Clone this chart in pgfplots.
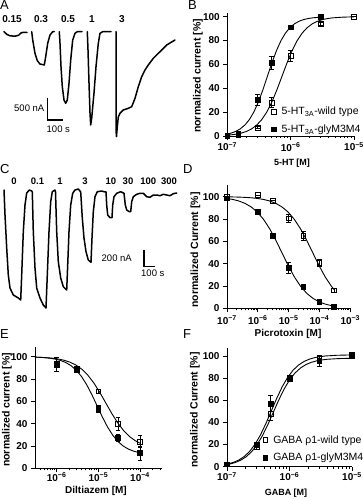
\documentclass[border=0pt]{standalone}
\usepackage{fontspec}
\setmainfont{Liberation Sans}
\usepackage{pgfplots}
\pgfplotsset{compat=1.18}
\newcommand\fs[1]{\fontsize{#1}{#1}\selectfont}
\pgfplotsset{
 prism/.style={scale only axis, axis lines=left, axis line style={-, line width=0.9pt},
   tick align=outside, major tick length=4pt, minor tick length=2.2pt,
   every tick/.style={black, line width=0.8pt},
   tick label style={font=\bfseries\fs{10}}, /pgf/number format/assume math mode=true,
   clip=false, anchor=south west,
   legend cell align=left,
   legend style={draw=none, fill=none, inner sep=0pt, row sep=4.5pt, column sep=3.5pt, font=\fs{10.5}, anchor=west}},
 openpt/.style={only marks, black, mark=square, mark size=2.4pt, mark options={fill=white, line width=0.8pt},
   error bars/.cd, y dir=both, y explicit, error bar style={line width=0.8pt, black},
   error mark options={rotate=90, mark size=2.2pt, line width=0.8pt, black}},
 fillpt/.style={only marks, black, mark=square*, mark size=2.4pt, mark options={fill=black, line width=0.8pt},
   error bars/.cd, y dir=both, y explicit, error bar style={line width=0.8pt, black},
   error mark options={rotate=90, mark size=2.2pt, line width=0.8pt, black}},
 fit/.style={black, line width=0.9pt, forget plot},
 trace/.style={black, line width=1.5pt, line join=round, line cap=round}
}
\begin{document}
\begin{tikzpicture}
% ---------- overlay axis in pixel units: traces, scale bars, texts ----------
\begin{axis}[scale only axis, width=363pt, height=500pt, at={(0pt,0pt)}, anchor=south west,
  xmin=0, xmax=363, ymin=0, ymax=500, y dir=reverse, hide axis, clip=false]
% Panel A traces
\addplot[trace] coordinates {(4,31.7) (7,34.5) (10,35.8) (15,36.2) (18.5,35.3) (21,33) (23,32.3) (27,32.3)};
\addplot[trace] coordinates {(31.7,31.7) (32.7,40) (35,53.3) (37.3,60.7) (40,64) (44.3,65) (45.7,56.7) (47.7,43.3) (50,35) (52.7,31.7) (54.3,31.7)};
\addplot[trace] coordinates {(59.3,31.7) (60,43.3) (61,66.7) (62.3,86.7) (64,100) (65.7,103.3) (67.3,100) (69,83.3) (70.7,60) (72.7,40) (75,33.3) (77.3,31.7) (82,31.7)};
\addplot[trace] coordinates {(87.3,31.7) (88,50) (89,83) (90,113) (90.7,125) (91.7,118) (94,93) (96,66.7) (98.3,43.3) (100,33.3) (102.7,31.7) (111,31.7)};
\addplot[trace] coordinates {(116,31.7) (116,130) (116.5,136.5) (117.3,126.7) (118.3,117) (120,113.3) (123.3,110) (128.3,108.3) (131.7,106.7) (135,98.3) (138.3,86.7) (141.7,76.7) (145,70) (148.3,65) (153.3,58.3) (160,51.7) (166.7,45) (175,40)};
\addplot[black, line width=1.5pt] coordinates {(47.7,97.7) (47.7,120) (63.3,120)};
% Panel C trace
\addplot[trace] coordinates {(4,190) (5,215) (6.7,248) (8.3,275) (10,288) (13.3,295) (18.3,298) (20.7,300) (21.7,275) (23.3,231.7) (25,205) (26.7,193) (29.3,190) (31.7,191) (32.3,192) (33.3,231.7) (35,268) (36.7,288) (40,298) (43.3,305) (46,308) (47.3,275) (49,231.7) (50.7,201.7) (52.3,191.7) (55,190) (55.5,192) (56.7,231.7) (58.3,261.7) (60.7,278) (63.3,286.7) (66.7,290) (67.7,265) (69,231.7) (70.7,205) (72.7,193.3) (75,190) (78.3,189) (80,191) (80.7,192) (82.3,218) (84,238) (86,251.7) (88.3,260) (91,262.3) (92,238) (93.3,211.7) (95,196.7) (97.3,191.7) (101.7,191) (104,191.7) (106,192) (106.7,205) (107.7,215) (110,217.7) (112,217.7) (112.7,205) (114,196.7) (116.7,193.3) (120.7,191.7) (124,193.3) (125.3,205) (126.7,210) (129.3,211.7) (130.7,211.7) (131.7,201.7) (133.3,196.7) (136.7,194.3) (140,193.3) (143.3,193.3) (146.7,196.7) (150,197.3) (153.3,195) (156.7,195) (160,195.7) (163.3,194.3) (166.7,195) (170,195.7) (173.3,193.7) (176.7,193)};
\addplot[black, line width=1.5pt] coordinates {(144,250) (144,266.5) (155,266.5)};
% panel letters
\node[anchor=north west, inner sep=0pt, font=\fs{13}] at (axis cs:0,0.5) {A};
\node[anchor=north west, inner sep=0pt, font=\fs{13}] at (axis cs:188,0.5) {B};
\node[anchor=north west, inner sep=0pt, font=\fs{13}] at (axis cs:0,164) {C};
\node[anchor=north west, inner sep=0pt, font=\fs{13}] at (axis cs:183,164) {D};
\node[anchor=north west, inner sep=0pt, font=\fs{13}] at (axis cs:0,329) {E};
\node[anchor=north west, inner sep=0pt, font=\fs{13}] at (axis cs:183,329) {F};
% concentrations A
\node[font=\bfseries\fs{10}, inner sep=0pt] at (axis cs:12,19.5) {0.15};
\node[font=\bfseries\fs{10}, inner sep=0pt] at (axis cs:41,19.5) {0.3};
\node[font=\bfseries\fs{10}, inner sep=0pt] at (axis cs:68,19.5) {0.5};
\node[font=\bfseries\fs{10}, inner sep=0pt] at (axis cs:92,19.5) {1};
\node[font=\bfseries\fs{10}, inner sep=0pt] at (axis cs:122,19.5) {3};
% concentrations C
\node[font=\bfseries\fs{9.5}, inner sep=0pt] at (axis cs:14,181.5) {0};
\node[font=\bfseries\fs{9.5}, inner sep=0pt] at (axis cs:37.5,181.5) {0.1};
\node[font=\bfseries\fs{9.5}, inner sep=0pt] at (axis cs:60,181.5) {1};
\node[font=\bfseries\fs{9.5}, inner sep=0pt] at (axis cs:85,181.5) {3};
\node[font=\bfseries\fs{9.5}, inner sep=0pt] at (axis cs:110.8,181.5) {10};
\node[font=\bfseries\fs{9.5}, inner sep=0pt] at (axis cs:128,181.5) {30};
\node[font=\bfseries\fs{9.5}, inner sep=0pt] at (axis cs:148.3,181.5) {100};
\node[font=\bfseries\fs{9.5}, inner sep=0pt] at (axis cs:169,181.5) {300};
% scale bar texts
\node[anchor=east, font=\fs{9.5}, inner sep=0pt] at (axis cs:44.5,108) {500 nA};
\node[anchor=west, font=\fs{9.5}, inner sep=0pt] at (axis cs:46.5,129.3) {100 s};
\node[anchor=east, font=\fs{9.5}, inner sep=0pt] at (axis cs:132,258) {200 nA};
\node[anchor=west, font=\fs{9.5}, inner sep=0pt] at (axis cs:141,273.3) {100 s};
% axis titles
\node[rotate=90, font=\bfseries\fs{10.5}, inner sep=0pt] at (axis cs:198,76) {normalized current [\%]};
\node[font=\bfseries\fs{9}, inner sep=0pt] at (axis cs:292,163.5) {5-HT [M]};
\node[rotate=90, font=\bfseries\fs{10.5}, inner sep=0pt] at (axis cs:195.5,250) {normalized Current [\%]};
\node[font=\bfseries\fs{10}, inner sep=0pt] at (axis cs:288,334) {Picrotoxin [M]};
\node[rotate=90, font=\bfseries\fs{10.5}, inner sep=0pt] at (axis cs:7,410) {normalized current [\%]};
\node[font=\bfseries\fs{10}, inner sep=0pt] at (axis cs:96,490.5) {Diltiazem [M]};
\node[rotate=90, font=\bfseries\fs{10.5}, inner sep=0pt] at (axis cs:195,410) {normalized Current [\%]};
\node[font=\bfseries\fs{9}, inner sep=0pt] at (axis cs:286,492.7) {GABA [M]};
\end{axis}

% ---------- Panel B ----------
\begin{axis}[prism, at={(227.3pt,364pt)}, width=126.7pt, height=122.9pt,
  xmin=-7, xmax=-5, ymin=0, ymax=103, ytick={0,20,40,60,80,100},
  xtick={-7,-6,-5}, xticklabels={10\textsuperscript{−7},10\textsuperscript{−6},10\textsuperscript{−5}},
  xticklabel style={yshift=1pt},
  minor xtick={-6.699,-6.523,-6.398,-6.301,-6.222,-6.155,-6.097,-6.046,-5.699,-5.523,-5.398,-5.301,-5.222,-5.155,-5.097,-5.046},
  legend style={at={(0.345,0.126)}}]
\addplot[fit] coordinates {(-7,0.69) (-6.937,0.99) (-6.857,1.56) (-6.777,2.45) (-6.697,3.83) (-6.617,5.94) (-6.537,9.09) (-6.457,13.68) (-6.377,20.08) (-6.297,28.47) (-6.217,38.69) (-6.137,50) (-6.057,61.31) (-5.977,71.53) (-5.897,79.92) (-5.817,86.32) (-5.737,90.91) (-5.657,94.07) (-5.577,96.17) (-5.497,97.55) (-5.417,98.44) (-5.337,99.01) (-5.177,99.6) (-5,99.86)};
\addplot[fit] coordinates {(-7,1.66) (-6.938,2.45) (-6.867,3.83) (-6.796,5.94) (-6.724,9.09) (-6.653,13.68) (-6.581,20.08) (-6.510,28.47) (-6.438,38.69) (-6.367,50) (-6.296,61.31) (-6.224,71.53) (-6.153,79.92) (-6.081,86.32) (-6.010,90.91) (-5.938,94.07) (-5.867,96.17) (-5.796,97.55) (-5.724,98.44) (-5.653,99.01) (-5.581,99.37) (-5.523,99.6)};
\addplot[openpt] coordinates {(-7,0) +- (0,0) (-6.824,1) +- (0,0) (-6.523,7) +- (0,1) (-6.301,28) +- (0,4) (-6,67) +- (0,4.5) (-5.523,94) +- (0,1.5) (-5,100) +- (0,0)};
\addplot[fillpt] coordinates {(-7,0) +- (0,0) (-6.824,1.5) +- (0,0) (-6.523,30) +- (0,4.5) (-6.301,61) +- (0,5.5) (-6,91) +- (0,1.5) (-5.523,99.5) +- (0,0.5)};
\legend{5-HT\textsubscript{3A}-wild type, 5-HT\textsubscript{3A}-glyM3M4}
\end{axis}

% ---------- Panel D ----------
\begin{axis}[prism, at={(227pt,191.7pt)}, width=123.3pt, height=122.8pt,
  xmin=-7, xmax=-3, ymin=0, ymax=110, ytick={0,20,40,60,80,100},
  xtick={-7,-6,-5,-4,-3}, xticklabels={10\textsuperscript{−7},10\textsuperscript{−6},10\textsuperscript{−5},10\textsuperscript{−4},10\textsuperscript{−3}},
  minor xtick={-6.699,-6.523,-6.398,-6.301,-6.222,-6.155,-6.097,-6.046,-5.699,-5.523,-5.398,-5.301,-5.222,-5.155,-5.097,-5.046,-4.699,-4.523,-4.398,-4.301,-4.222,-4.155,-4.097,-4.046,-3.699,-3.523,-3.398,-3.301,-3.222,-3.155,-3.097,-3.046}]
\addplot[fit] coordinates {(-7,98.36) (-6.822,97.55) (-6.622,96.17) (-6.422,94.07) (-6.222,90.91) (-6.022,86.32) (-5.822,79.92) (-5.622,71.53) (-5.422,61.31) (-5.222,50) (-5.022,38.69) (-4.822,28.47) (-4.622,20.08) (-4.422,13.68) (-4.222,9.09) (-4.022,5.94) (-3.822,3.83) (-3.622,2.45) (-3.523,1.96)};
\addplot[fit] coordinates {(-7,99.83) (-6.822,99.75) (-6.622,99.6) (-6.422,99.37) (-6.222,99.01) (-6.022,98.44) (-5.822,97.55) (-5.622,96.17) (-5.422,94.07) (-5.222,90.91) (-5.022,86.32) (-4.822,79.92) (-4.622,71.53) (-4.422,61.31) (-4.222,50) (-4.022,38.69) (-3.822,28.47) (-3.622,20.08) (-3.523,16.67)};
\addplot[openpt] coordinates {(-7,100) +- (0,0) (-6,101.5) +- (0,0) (-5.523,96.5) +- (0,0) (-5,80.5) +- (0,4) (-4.523,65) +- (0,4) (-4,40.5) +- (0,3) (-3.523,16) +- (0,1.5)};
\addplot[fillpt] coordinates {(-7,98.5) +- (0,0) (-6,86) +- (0,1.5) (-5.523,65) +- (0,1.5) (-5,36) +- (0,5) (-4.523,19) +- (0,1.5) (-4,6) +- (0,1) (-3.523,1.5) +- (0,1)};
\end{axis}

% ---------- Panel E ----------
\begin{axis}[prism, at={(35pt,31.7pt)}, width=126.7pt, height=121.6pt,
  xmin=-6.52, xmax=-3.48, ymin=0, ymax=109, ytick={0,20,40,60,80,100},
  xtick={-6,-5,-4}, xticklabels={10\textsuperscript{−6},10\textsuperscript{−5},10\textsuperscript{−4}},
  xticklabel style={yshift=3pt},
  minor xtick={-6.398,-6.301,-6.222,-6.155,-6.097,-6.046,-5.699,-5.523,-5.398,-5.301,-5.222,-5.155,-5.097,-5.046,-4.699,-4.523,-4.398,-4.301,-4.222,-4.155,-4.097,-4.046,-3.699,-3.523}]
\addplot[fit] coordinates {(-6.52,99.66) (-6.391,99.48) (-6.249,99.18) (-6.106,98.71) (-5.963,97.97) (-5.82,96.82) (-5.677,95.08) (-5.534,92.46) (-5.391,88.65) (-5.249,83.33) (-5.106,76.37) (-4.963,67.89) (-4.82,58.5) (-4.677,49.11) (-4.534,40.63) (-4.391,33.67) (-4.249,28.35) (-4.106,24.54) (-4,22.51)};
\addplot[fit] coordinates {(-6.52,99.64) (-6.405,99.45) (-6.28,99.13) (-6.155,98.63) (-6.03,97.84) (-5.905,96.63) (-5.78,94.78) (-5.655,92.0) (-5.53,87.96) (-5.405,82.33) (-5.28,74.95) (-5.155,65.95) (-5.03,56) (-4.905,46.05) (-4.78,37.05) (-4.655,29.67) (-4.53,24.04) (-4.405,20.0) (-4.28,17.23) (-4.155,15.37) (-4.03,14.16) (-4,13.94)};
\addplot[openpt] coordinates {(-6,94) +- (0,0) (-5.523,89) +- (0,1) (-5,69) +- (0,1.5) (-4.523,40) +- (0,6) (-4,24) +- (0,5.5)};
\addplot[fillpt] coordinates {(-6,93) +- (0,6.5) (-5.523,88.5) +- (0,1.5) (-5,53) +- (0,3) (-4.523,27.5) +- (0,3) (-4,13.5) +- (0,6)};
\end{axis}

% ---------- Panel F ----------
\begin{axis}[prism, at={(227pt,33.3pt)}, width=125pt, height=118.5pt,
  xmin=-7, xmax=-5, ymin=0, ymax=107, ytick={0,20,40,60,80,100},
  xtick={-7,-6,-5}, xticklabels={10\textsuperscript{−7},10\textsuperscript{−6},10\textsuperscript{−5}},
  xticklabel style={yshift=2pt},
  minor xtick={-6.699,-6.523,-6.398,-6.301,-6.222,-6.155,-6.097,-6.046,-5.699,-5.523,-5.398,-5.301,-5.222,-5.155,-5.097,-5.046},
  legend style={at={(0.286,0.15)}}]
\addplot[fit] coordinates {(-7,1.91) (-6.956,2.4) (-6.869,3.75) (-6.782,5.82) (-6.695,8.91) (-6.608,13.41) (-6.521,19.68) (-6.434,27.9) (-6.347,37.92) (-6.26,49) (-6.173,60.08) (-6.086,70.1) (-5.999,78.32) (-5.912,84.59) (-5.825,89.09) (-5.738,92.19) (-5.651,94.25) (-5.564,95.6) (-5.477,96.47) (-5.39,97.03) (-5.216,97.61) (-5.043,97.84) (-5,97.86)};
\addplot[fit] coordinates {(-7,2.3) (-6.986,2.47) (-6.899,3.87) (-6.812,6) (-6.725,9.18) (-6.638,13.82) (-6.551,20.28) (-6.464,28.75) (-6.377,39.08) (-6.29,50.5) (-6.203,61.92) (-6.116,72.25) (-6.029,80.72) (-5.942,87.18) (-5.855,91.82) (-5.768,95.01) (-5.681,97.13) (-5.594,98.53) (-5.507,99.42) (-5.42,100) (-5.246,100.6) (-5.073,100.84) (-5,100.9)};
\addplot[openpt] coordinates {(-7,2) +- (0,0) (-6.523,18) +- (0,2) (-6.301,48) +- (0,6) (-6,79) +- (0,2) (-5.523,98) +- (0,2) (-5,100) +- (0,1)};
\addplot[fillpt] coordinates {(-7,2) +- (0,0) (-6.523,20) +- (0,1.5) (-6.301,57) +- (0,7) (-6,80) +- (0,2) (-5.523,95.5) +- (0,4.5) (-5,100.6) +- (0,1)};
\legend{GABA ρ1-wild type, GABA ρ1-glyM3M4}
\end{axis}
\pgfresetboundingbox
\path[use as bounding box] (0pt,0pt) rectangle (363pt,500pt);
\end{tikzpicture}
\end{document}
